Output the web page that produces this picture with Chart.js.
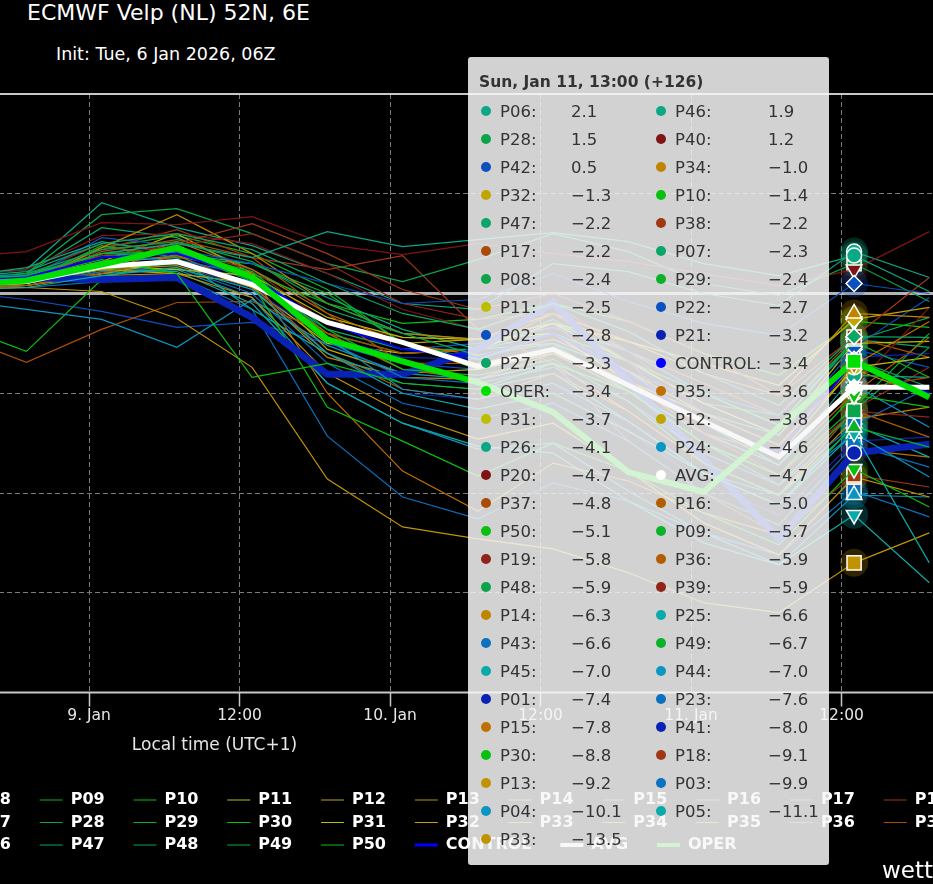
<!DOCTYPE html>
<html lang="en">
<head>
<meta charset="UTF-8">
<title>ECMWF Velp (NL) 52N, 6E</title>
<script src="https://cdn.jsdelivr.net/npm/chart.js@4"></script>
<style>
    html, body { margin: 0; width: 933px; height: 884px; overflow: hidden; background: #000; }
    body { position: relative; font-family: 'DejaVu Sans', sans-serif; color: #fff; }
    #title { position: absolute; left: 27px; top: 0; font-size: 22px; line-height: 26px; white-space: nowrap; }
    #subtitle { position: absolute; left: 56px; top: 43px; font-size: 17.5px; line-height: 22px; white-space: nowrap; }
    #wrap { position: absolute; left: -717px; top: 0; width: 1863px; height: 884px; }
    #credit { position: absolute; left: 882px; top: 856px; font-size: 23px; line-height: 28px; white-space: nowrap; }
    #tip { position: absolute; top: 57px; width: 361px; box-sizing: border-box; display: none;
           background: rgba(247,247,247,0.85); border-radius: 3px; padding: 15px 0 12px 11px;
           color: #333; font-size: 16.5px; }
    #tip .head { font-weight: bold; font-size: 15.5px; line-height: 20px; white-space: nowrap; }
    #tip .rows { display: grid; grid-template-columns: 19px 71px 85px 19px 93px 60px;
                 grid-auto-rows: 28px; align-items: center; margin: 5px 0 0 2px; white-space: nowrap; }
    #tip .dot { width: 10px; height: 10px; border-radius: 50%; }
</style>
</head>
<body>
<div id="title">ECMWF Velp (NL) 52N, 6E</div>
<div id="subtitle">Init: Tue, 6 Jan 2026, 06Z</div>
<div id="wrap"><canvas id="ensChart"></canvas></div>
<div id="credit">wetterzentrale.de</div>
<div id="tip"></div>

<script>
// forecast hours after init (6 Jan 2026 06Z)
const hours = [54, 60, 66, 72, 78, 84, 90, 96, 102, 108, 114, 120, 126, 132];
const tickHours = [65, 77, 89, 101, 113, 125];
const tickLabels = ['9. Jan', '12:00', '10. Jan', '12:00', '11. Jan', '12:00'];

// 2m temperature, degC
const p01 = [0.5, 0.7, 1.6, 1.9, 0.5, -3.0, -5.0, -5.3, -4.5, -6.9, -9.5, -11.1, -7.4, -7.2];
const p02 = [0.1, -0.3, -0.9, -1.7, -1.45, -2.5, -3.5, -3.8, -2.5, -3.9, -5.5, -7.1, -2.8, -3.7];
const p03 = [0.2, 0.3, 0.6, 0.9, -0.8, -7.15, -10.2, -11.3, -9.5, -10.4, -12.0, -13.1, -9.9, -11.2];
const p04 = [0.3, 0.4, 1.0, 1.2, -0.2, -4.5, -6.5, -7.8, -7.5, -9.9, -12.0, -13.6, -10.1, -10.2];
const p05 = [0.4, 0.5, 1.2, 1.1, -0.5, -4.5, -6.5, -7.65, -8.0, -10.4, -12.5, -13.6, -11.1, -14.5];
const p06 = [0.9, 1.2, 4.55, 3.3, 2.4, 1.0, -0.5, -0.8, 1.5, 1.1, 0.0, -0.6, 2.1, 0.8];
const p07 = [0.7, 1.0, 3.3, 2.8, 1.2, -0.8, -2.0, -2.3, -1.5, -2.9, -5.0, -6.6, -2.3, -2.7];
const p08 = [0.5, 0.7, 1.8, 2.2, 1.0, -2.0, -3.0, -2.8, -1.3, -3.4, -5.5, -6.1, -2.38, -1.2];
const p09 = [0.5, 0.7, 2.3, 2.9, 2.0, 0.2, -2.5, -3.8, -3.0, -4.9, -7.5, -9.1, -5.7, -2.0];
const p10 = [-1.5, -2.9, 0.7, 2.0, 1.0, -0.5, -1.5, -1.3, -0.5, -1.4, -3.0, -4.1, -1.4, -1.7];
const p11 = [0.2, 0.4, 1.0, 1.6, 0.3, -2.5, -3.0, -2.8, -1.5, -3.4, -5.5, -7.1, -2.5, -2.4];
const p12 = [0.5, 0.8, 1.6, 3.0, 1.0, -2.8, -4.0, -3.8, -3.0, -4.4, -6.0, -7.6, -3.8, -5.2];
const p13 = [0.3, 0.4, 0.9, 1.0, -0.2, -4.0, -6.0, -7.3, -6.5, -8.9, -11.5, -13.1, -9.2, -10.2];
const p14 = [0.3, 0.5, 1.2, 1.4, 0.3, -3.2, -4.2, -4.3, -3.5, -5.9, -8.5, -10.1, -6.3, -5.7];
const p15 = [0.4, 0.6, 1.5, 1.9, 1.0, -5.0, -8.9, -10.9, -8.5, -9.4, -11.0, -12.1, -7.8, -8.2];
const p16 = [0.3, 0.4, 1.1, 2.3, 0.7, -2.0, -3.8, -4.3, -3.0, -4.9, -7.0, -8.6, -5.0, -2.2];
const p17 = [-2.0, -3.45, -1.8, -0.45, -0.4, -2.0, -3.0, -2.8, -1.0, -2.9, -4.5, -6.1, -2.2, -3.2];
const p18 = [0.5, 0.7, 2.2, 3.2, 1.8, 1.2, 1.9, -1.8, -3.5, -7.4, -10.0, -12.1, -9.1, -9.7];
const p19 = [0.6, 0.9, 2.5, 2.2, 1.2, -1.5, -2.2, -2.3, -1.5, -4.4, -8.0, -9.6, -5.8, -3.7];
const p20 = [0.9, 1.2, 2.9, 3.0, 2.5, 1.0, -0.8, -1.8, -0.5, -2.9, -6.0, -7.6, -4.68, -0.7];
const p21 = [0.6, 0.9, 2.2, 1.5, 0.2, -2.2, -3.2, -3.3, -2.3, -3.4, -6.0, -7.6, -3.2, -3.0];
const p22 = [0.5, 0.7, 2.8, 2.4, 0.8, -1.5, -2.8, -2.5, -1.7, -2.9, -5.0, -6.1, -2.7, -0.2];
const p23 = [0.3, 0.5, 1.1, 1.3, 0.0, -3.5, -5.5, -6.3, -5.5, -7.4, -10.0, -11.6, -7.6, -8.7];
const p24 = [-0.3, -0.8, -1.3, -2.7, -0.3, -2.6, -4.0, -4.3, -3.5, -4.9, -7.0, -8.6, -4.6, -6.7];
const p25 = [0.4, 0.6, 1.6, 1.8, -0.8, -3.0, -4.5, -4.8, -4.0, -6.4, -9.0, -10.6, -6.58, -8.2];
const p26 = [0.8, 1.3, 2.6, 2.0, 1.5, -0.2, -1.8, -2.8, -2.5, -3.9, -6.5, -8.6, -4.1, -4.2];
const p27 = [0.7, 1.0, 1.9, 2.1, 0.6, -1.8, -2.8, -2.8, -2.0, -3.9, -6.0, -7.1, -3.3, -4.7];
const p28 = [0.6, 1.0, 3.95, 4.25, 3.0, 1.5, 0.6, 1.7, 3.0, 2.1, 0.5, -0.1, 1.5, -0.4];
const p29 = [0.4, 0.6, 2.4, 1.8, 1.5, 0.0, -2.5, -3.3, -2.0, -3.4, -5.0, -6.6, -2.4, -4.2];
const p30 = [0.4, 0.6, 1.2, 1.5, 0.5, -5.7, -7.4, -9.15, -7.5, -8.9, -11.0, -12.6, -8.8, -10.7];
const p31 = [0.4, 0.6, 1.4, 1.2, 0.9, -1.2, -2.2, -2.3, -2.0, -4.4, -6.5, -8.1, -3.7, -3.2];
const p32 = [0.5, 0.8, 1.2, 1.0, 0.5, -1.5, -2.5, -2.3, -1.5, -2.4, -3.5, -4.6, -1.3, -0.7];
const p33 = [0.2, 0.3, 0.1, -1.25, -3.7, -9.3, -11.7, -12.3, -12.8, -14.0, -15.5, -16.0, -13.5, -12.0];
const p34 = [0.3, 0.5, 2.3, 3.95, 2.0, -0.5, -2.0, -2.3, -1.0, -2.4, -4.0, -5.1, -1.0, -1.2];
const p35 = [0.3, 0.5, 1.3, 2.6, 1.2, -1.0, -2.5, -3.1, -2.3, -3.9, -6.0, -7.6, -3.6, -1.4];
const p36 = [0.2, 0.4, 1.0, 1.9, 0.4, -3.0, -4.8, -5.3, -4.0, -5.9, -8.5, -10.1, -5.86, -7.2];
const p37 = [0.4, 0.6, 2.1, 2.7, 1.8, -1.0, -3.5, -3.5, -2.7, -4.4, -7.0, -8.1, -4.8, -4.2];
const p38 = [0.6, 0.9, 2.0, 2.5, 3.5, 2.0, 0.2, -0.8, 0.0, -1.4, -3.0, -5.1, -2.18, 0.8];
const p39 = [0.5, 0.7, 1.9, 2.4, 3.0, 1.5, -0.5, -1.3, -1.0, -3.4, -7.0, -9.1, -5.9, -6.2];
const p40 = [1.8, 2.1, 3.55, 3.45, 3.85, 2.45, 1.95, 2.5, 2.0, 1.6, 1.0, 0.4, 1.2, 3.1];
const p41 = [0.8, 0.8, 0.7, 0.8, -1.2, -4.05, -4.05, -2.8, -0.45, -4.4, -8.3, -12.3, -8.0, -7.55];
const p42 = [0.4, 0.7, 1.5, 2.2, 1.5, 0.5, -0.5, -0.3, 1.0, -0.4, -1.5, -2.1, 0.5, 0.0];
const p43 = [0.5, 0.7, 1.4, 1.7, 0.9, -2.4, -4.2, -4.5, -3.7, -5.4, -8.0, -9.6, -6.6, -4.7];
const p44 = [0.4, 0.5, 1.3, 1.5, 0.6, -2.2, -4.8, -5.3, -4.5, -6.4, -9.0, -10.1, -7.0, -9.2];
const p45 = [0.2, 0.3, 0.9, 1.3, 0.2, -3.0, -5.0, -5.8, -5.0, -6.9, -9.0, -10.6, -6.98, -13.5];
const p46 = [0.7, 0.9, 2.0, 2.5, 1.8, 3.1, 2.35, 2.7, 3.05, 2.6, 1.5, 0.9, 1.9, 0.1];
const p47 = [0.8, 1.1, 2.5, 3.0, 2.2, 0.5, -1.0, -1.8, -0.5, -1.9, -4.0, -5.6, -2.16, -2.2];
const p48 = [0.7, 1.0, 2.2, 2.6, 1.6, -0.5, -2.0, -3.1, -2.5, -4.9, -7.5, -9.6, -5.88, -2.7];
const p49 = [0.6, 0.9, 2.0, 2.1, 1.1, -1.8, -3.8, -4.1, -3.3, -5.4, -8.5, -10.1, -6.7, -7.7];
const p50 = [0.6, 0.8, 1.7, 1.0, -4.2, -3.5, -4.5, -4.8, -3.5, -4.9, -7.5, -9.1, -5.1, -5.7];
const control = [0.6, 0.8, 1.8, 2.0, 0.8, -1.5, -2.8, -3.2, -2.0, -4.0, -6.5, -8.0, -3.38, -5.0];
const avg = [0.5, 0.6, 1.35, 1.6, 0.45, -1.45, -2.45, -3.65, -2.8, -4.6, -6.4, -8.2, -4.7, -4.7];
const oper = [0.4, 0.65, 1.45, 2.3, 0.8, -2.3, -3.4, -4.45, -5.95, -8.95, -9.95, -6.7, -3.4, -5.2];

const members = [p01, p02, p03, p04, p05, p06, p07, p08, p09, p10,
                 p11, p12, p13, p14, p15, p16, p17, p18, p19, p20,
                 p21, p22, p23, p24, p25, p26, p27, p28, p29, p30,
                 p31, p32, p33, p34, p35, p36, p37, p38, p39, p40,
                 p41, p42, p43, p44, p45, p46, p47, p48, p49, p50];

const palette = ['#0a22b4', '#0a50c0', '#0a70c0', '#0a96c0', '#0aaaaa',
                 '#0aa884', '#0aa668', '#0aa44a', '#0ab22a', '#0ac00e',
                 '#bebe00', '#c0a400', '#c09400', '#c08400', '#c07000',
                 '#b45c00', '#aa4c06', '#a03814', '#902418', '#801414'];

const hoverHour = 126;
const hoveredMember = 41; // highlighted series under the mouse
const solidLevels = [10, 0, -20];

const shapes = ['circle', 'rectRot', 'rect', 'triangle', 'triangle'];
const rotations = [0, 0, 0, 0, 180];
const markerSize = { circle: 7.5, rectRot: 8, rect: 10, triangle: 9 };

function series(label, data, color, width, legendWidth, i) {
    const shape = shapes[i % 5];
    return {
        label: label,
        data: data,
        borderColor: color,
        backgroundColor: color,
        borderWidth: width,
        legendWidth: legendWidth,
        pointRadius: 0,
        pointStyle: shape,
        pointRotation: rotations[i % 5],
        pointHoverRadius: markerSize[shape],
        pointHoverBackgroundColor: color,
        pointHoverBorderColor: '#ffffff',
        pointHoverBorderWidth: 1.5,
        order: 100 - i
    };
}

const datasets = members.map((d, i) => {
    const name = 'P' + String(i + 1).padStart(2, '0');
    const thick = (i + 1) === hoveredMember;
    return series(name, d, palette[i % 20], thick ? 7 : 1.2, 1.2, i);
});
datasets.push(series('CONTROL', control, '#0000ff', 2, 3, 50));
datasets.push(series('AVG', avg, '#ffffff', 5, 4, 51));
datasets.push(series('OPER', oper, '#00e000', 6, 4, 52));

// grid reference lines and hover halos, drawn beneath the series
const overlay = {
    id: 'overlay',
    beforeDatasetsDraw(chart) {
        const { ctx, chartArea, scales } = chart;
        ctx.save();
        solidLevels.forEach(v => {
            const py = scales.y.getPixelForValue(v);
            ctx.strokeStyle = v === 0 ? '#b4b4b4' : '#c8c8c8';
            ctx.lineWidth = v === 0 ? 3 : 2;
            ctx.beginPath();
            ctx.moveTo(chartArea.left, py);
            ctx.lineTo(chartArea.right, py);
            ctx.stroke();
        });
        chart.getActiveElements().forEach(a => {
            ctx.globalAlpha = 0.25;
            ctx.fillStyle = chart.data.datasets[a.datasetIndex].borderColor;
            ctx.beginPath();
            ctx.arc(a.element.x, a.element.y, 14, 0, Math.PI * 2);
            ctx.fill();
        });
        ctx.restore();
    }
};

const days = ['Sun', 'Mon', 'Tue', 'Wed', 'Thu', 'Fri', 'Sat'];
const months = ['Jan', 'Feb', 'Mar', 'Apr', 'May', 'Jun', 'Jul', 'Aug', 'Sep', 'Oct', 'Nov', 'Dec'];
const initUtc = Date.UTC(2026, 0, 6, 6);

function fmt(v) {
    return v.toFixed(1).replace('-', '\u2212');
}

function renderTip(context) {
    const tooltip = context.tooltip;
    const tip = document.getElementById('tip');
    if (!tooltip.dataPoints || !tooltip.dataPoints.length) {
        tip.style.display = 'none';
        return;
    }
    const pts = tooltip.dataPoints.slice().sort((a, b) => b.parsed.y - a.parsed.y);
    const h = pts[0].parsed.x;
    const t = new Date(initUtc + (h + 1) * 3600000); // local time UTC+1
    const head = days[t.getUTCDay()] + ', ' + months[t.getUTCMonth()] + ' ' + t.getUTCDate() + ', ' +
                 String(t.getUTCHours()).padStart(2, '0') + ':00 (+' + h + ')';
    let rows = '';
    pts.forEach(p => {
        rows += '<span class="dot" style="background:' + p.dataset.borderColor + '"></span>' +
                '<span>' + p.dataset.label + ':</span><span>' + fmt(p.parsed.y) + '</span>';
    });
    tip.innerHTML = '<div class="head">' + head + '</div><div class="rows">' + rows + '</div>';
    const canvasLeft = context.chart.canvas.getBoundingClientRect().left;
    tip.style.left = (canvasLeft + pts[0].element.x - 25 - 361) + 'px';
    tip.style.display = 'block';
}

Chart.defaults.font.family = "'DejaVu Sans', sans-serif";

const ctx = document.getElementById('ensChart').getContext('2d');
const chart = new Chart(ctx, {
    type: 'line',
    data: { labels: hours, datasets: datasets },
    plugins: [overlay],
    options: {
        responsive: true,
        maintainAspectRatio: false,
        animation: false,
        events: [],
        layout: { padding: { top: 94, bottom: 21, left: 0, right: 0 } },
        scales: {
            x: {
                type: 'linear',
                min: 1,
                max: 149,
                afterBuildTicks: scale => {
                    scale.ticks = tickHours.map(v => ({ value: v }));
                },
                ticks: {
                    callback: v => tickLabels[tickHours.indexOf(v)],
                    color: '#e6e6e6',
                    font: { size: 15.5 },
                    padding: 0,
                    maxRotation: 0,
                    autoSkip: false
                },
                grid: {
                    color: '#7a7a7a',
                    lineWidth: 1,
                    tickLength: 14,
                    tickColor: '#c8c8c8',
                    tickWidth: 1.5,
                    tickBorderDash: []
                },
                border: { display: false, dash: [5, 3] },
                title: {
                    display: true,
                    text: 'Local time (UTC+1)',
                    color: '#e6e6e6',
                    font: { size: 17 },
                    padding: { top: 10, bottom: 30 }
                }
            },
            y: {
                min: -20,
                max: 10,
                ticks: { stepSize: 5, display: false },
                grid: { color: '#7a7a7a', drawTicks: false },
                border: { display: false, dash: [5, 3] }
            }
        },
        plugins: {
            legend: {
                position: 'bottom',
                align: 'start',
                labels: {
                    color: '#ffffff',
                    font: { size: 16, weight: 'bold' },
                    usePointStyle: true,
                    pointStyle: 'line',
                    pointStyleWidth: 23,
                    padding: 6.5,
                    sort: (a, b) => a.datasetIndex - b.datasetIndex,
                    generateLabels: chart => {
                        const items = Chart.defaults.plugins.legend.labels.generateLabels(chart);
                        items.forEach(it => {
                            const ds = chart.data.datasets[it.datasetIndex];
                            it.text = ds.label + '\u00a0\u00a0\u00a0\u00a0';
                            it.strokeStyle = ds.borderColor;
                            it.lineWidth = ds.legendWidth;
                            it.pointStyle = 'line';
                            it.rotation = 0;
                        });
                        return items;
                    }
                }
            },
            title: { display: false },
            tooltip: {
                enabled: false,
                mode: 'index',
                intersect: false,
                external: renderTip
            }
        }
    }
});

// show the hover state at Sun 11 Jan 13:00 (+126)
const idx = hours.indexOf(hoverHour);
const active = chart.data.datasets.map((d, i) => ({ datasetIndex: i, index: idx }));
chart.setActiveElements(active);
chart.update();
const anchor = chart.getDatasetMeta(0).data[idx];
chart.tooltip.setActiveElements(active, { x: anchor.x, y: anchor.y });
chart.update();
</script>
</body>
</html>
